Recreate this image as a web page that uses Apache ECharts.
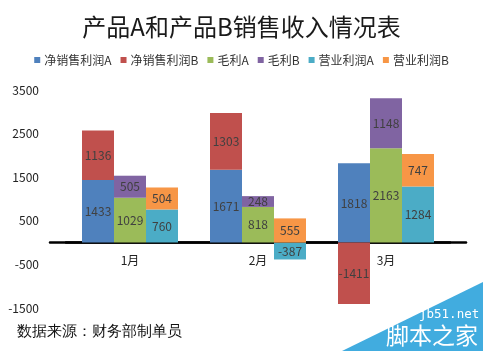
<!DOCTYPE html>
<html><head><meta charset="utf-8">
<script src="https://cdn.jsdelivr.net/npm/echarts@6/dist/echarts.min.js"></script>
<style>html,body{margin:0;padding:0;background:#fff}#c{width:483px;height:351px}</style>
</head><body><div id="c"></div>
<script>
var categories = ['1月', '2月', '3月'];
var seriesNames = ['净销售利润A', '净销售利润B', '毛利A', '毛利B', '营业利润A', '营业利润B'];
var netA = [1433, 1671, 1818];
var netB = [1136, 1303, -1411];
var grossA = [1029, 818, 2163];
var grossB = [505, 248, 1148];
var opA = [760, -387, 1284];
var opB = [504, 555, 747];
var yTicks = [-1500, -500, 500, 1500, 2500, 3500];

var colors = ['#4F81BD', '#C0504D', '#9BBB59', '#8064A2', '#4BACC6', '#F79646'];
var seriesData = [netA, netB, grossA, grossB, opA, opB];
var stacks = ['net', 'net', 'gross', 'gross', 'op', 'op'];
var font = '"Microsoft YaHei","Noto Sans CJK SC",sans-serif';
var yMin = yTicks[0], yMax = yTicks[yTicks.length - 1];
var gridTop = 90, gridBottom = 43, H = 351;
var plotH = H - gridTop - gridBottom;
// bottom offset of a grid whose bottom edge sits at value 0
var zeroBottom = gridBottom + plotH * (0 - yMin) / (yMax - yMin);

var chart = echarts.init(document.getElementById('c'));
chart.setOption({
  animation: false,
  color: colors,
  title: {
    text: '产品A和产品B销售收入情况表',
    left: 'center', top: 10,
    textStyle: { fontSize: 24, fontWeight: 'normal', color: '#1a1a1a', fontFamily: font }
  },
  legend: {
    top: 49, left: 'center',
    itemWidth: 6, itemHeight: 6, itemGap: 9,
    icon: 'rect',
    textStyle: { fontSize: 12, color: '#333', fontFamily: font, padding: [0, 0, 0, -1] },
    data: seriesNames
  },
  grid: [
    { left: 66, right: 33, top: gridTop, bottom: gridBottom },
    { left: 50, right: 17, top: gridTop, bottom: gridBottom },
    { left: 66, right: 33, top: gridTop, bottom: zeroBottom }
  ],
  xAxis: [
    {
      type: 'category', data: categories, gridIndex: 0,
      axisLine: { show: true, onZero: true, lineStyle: { color: '#000', width: 2.5 } },
      axisTick: { show: false },
      axisLabel: { show: false }
    },
    {
      type: 'category', data: categories, gridIndex: 1,
      axisLine: { show: true, onZero: true, lineStyle: { color: '#000', width: 2.5 } },
      axisTick: { show: false },
      axisLabel: { show: false }
    },
    {
      type: 'category', data: categories, gridIndex: 2,
      axisLine: { show: false }, axisTick: { show: false },
      axisLabel: { margin: 12, fontSize: 12, color: '#222', fontFamily: font }
    }
  ],
  yAxis: [
    {
      type: 'value', gridIndex: 0, min: yMin, max: yMax, interval: 1000,
      axisLine: { show: false }, axisTick: { show: false }, splitLine: { show: false },
      axisLabel: { margin: 27, fontSize: 12, color: '#222', fontFamily: font,
        formatter: function (v) { return String(v); } }
    },
    {
      type: 'value', gridIndex: 1, min: yMin, max: yMax, interval: 1000,
      show: false, splitLine: { show: false }
    },
    {
      type: 'value', gridIndex: 2, min: 0, max: yMax,
      show: false, splitLine: { show: false }
    }
  ],
  series: seriesNames.map(function (name, i) {
    return {
      name: name, type: 'bar', stack: stacks[i],
      xAxisIndex: 0, yAxisIndex: 0,
      barGap: '0%', barCategoryGap: '25%',
      data: seriesData[i],
      itemStyle: { color: colors[i] },
      label: { show: true, position: 'inside', fontSize: 12, color: '#404040', fontFamily: font }
    };
  }),
  graphic: [
    {
      type: 'text', left: 17, top: 324,
      style: { text: '数据来源：财务部制单员', fontSize: 15, fill: '#111', font: '15px ' + font }
    },
    {
      type: 'polygon', silent: true,
      shape: { points: [[342, 351], [483, 351], [483, 282]] },
      style: { fill: '#41ACDF' }
    },
    {
      type: 'text', left: 419, top: 308,
      style: { text: 'jb51.net', fill: '#fff', font: '12.5px "DejaVu Sans Mono",monospace' }
    },
    {
      type: 'text', left: 386, top: 324,
      style: { text: '脚本之家', fill: '#fff', font: '23px ' + font }
    }
  ]
});
</script></body></html>
